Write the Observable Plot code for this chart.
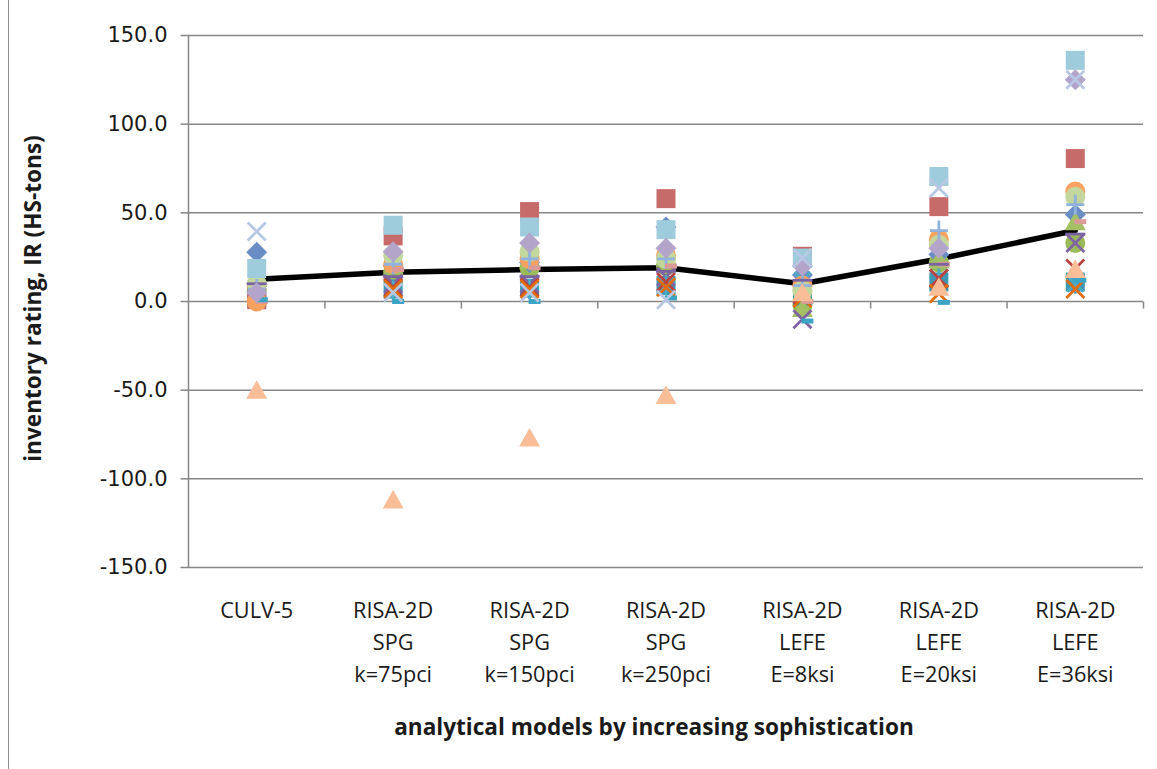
<!DOCTYPE html>
<html><head><meta charset="utf-8">
<script src="https://cdn.jsdelivr.net/npm/d3@7"></script>
<script src="https://cdn.jsdelivr.net/npm/@observablehq/plot@0.6"></script>
<style>body{margin:0;background:#fff;} #wrap{position:relative;width:1157px;height:769px;} #border{position:absolute;left:8px;top:0;width:0;height:769px;border-left:1.5px solid #8d8d8d;}</style>
</head><body><div id="wrap"><div id="border"></div></div>
<script>
const categories = ["CULV-5", "RISA-2D\nSPG\nk=75pci", "RISA-2D\nSPG\nk=150pci", "RISA-2D\nSPG\nk=250pci", "RISA-2D\nLEFE\nE=8ksi", "RISA-2D\nLEFE\nE=20ksi", "RISA-2D\nLEFE\nE=36ksi"];
const yTicks = [-150, -100, -50, 0, 50, 100, 150];
const meanIR = [12.5, 16.5, 18, 19, 10, 24, 40];

const greenCircle      = [2, 17, 19, 20, -2, 22, 33];
const tealSquare       = [2, 7, 7.5, 9, 3, 11, 11];
const blueDiamond      = [27.8, 20, 22, 42, 15, 26.5, 49];
const redSquare        = [1, 37, 50.7, 58, 25.5, 53.5, 80.6];
const greenTriangle    = [11, 20, 23, 25, -4, 23.5, 45];
const purpleX          = [4, 10, 10, 14, -10, 13, 33];
const aquaStar         = [3, 6, 7, 9, 12, 13, 10];
const darkRedX         = [4, 8, 8, 11, 4, 13, 18.6];
const darkOrangeX      = [3, 7, 7, 8, 2, 4.5, 7];
const orangeCircle     = [0, 21, 24, 26, 9, 35, 62];
const lightGreenCircle = [10, 26, 28, 24, 6, 32, 59];
const bluePlus         = [7, 21, 24, 24, 9, 40, 54.6];
const pinkDash         = [0, 18, 19, 20, 0, 21, 45];
const purpleDash       = [10, 14, 14, 17, 12, 21, 38];
const tealDash         = [1, 0, 0, 2, -11, -0.5, 12];
const peachTriangle    = [-50, -112, -77, -53, 5, 8, 18];
const lightBlueSquare  = [18.6, 43, 42, 40.5, 24.5, 70.5, 136];
const lavenderDiamond  = [5, 28, 33, 30, 20, 30, 125];
const lightBlueX       = [39.5, 5, 5, 1, 24.5, 64, 125];

const sym = f => ({draw(c){ f(c); }});
const shapes = {
  square: sym(c => c.rect(-9.5, -9.5, 19, 19)),
  circle: sym(c => { c.moveTo(10, 0); c.arc(0, 0, 10, 0, 2 * Math.PI); }),
  diamond: sym(c => { c.moveTo(0, -10.5); c.lineTo(10.5, 0); c.lineTo(0, 10.5); c.lineTo(-10.5, 0); c.closePath(); }),
  triangle: sym(c => { c.moveTo(0, -10); c.lineTo(10.5, 8.5); c.lineTo(-10.5, 8.5); c.closePath(); }),
  x: sym(c => { c.moveTo(-9, -9); c.lineTo(9, 9); c.moveTo(9, -9); c.lineTo(-9, 9); }),
  star: sym(c => { c.moveTo(-8, -8); c.lineTo(8, 8); c.moveTo(8, -8); c.lineTo(-8, 8); c.moveTo(0, -10); c.lineTo(0, 10); }),
  plus: sym(c => { c.moveTo(-9, 0); c.lineTo(9, 0); c.moveTo(0, -10); c.lineTo(0, 10); }),
  dash: sym(c => c.rect(-1, -2.5, 12, 5)),
  line: sym(c => { c.moveTo(-10, 0); c.lineTo(10, 0); }),
  tickDown: sym(c => { c.moveTo(0, 0); c.lineTo(0, 7); }),
  tickLeft: sym(c => { c.moveTo(0, 0); c.lineTo(-8, 0); })
};

const seriesStyles = [
  {values: greenCircle, shape: "circle", fill: "#9BBB59"},
  {values: tealSquare, shape: "square", fill: "#3A98B4"},
  {values: blueDiamond, shape: "diamond", fill: "#6A8DC6"},
  {values: redSquare, shape: "square", fill: "#C76B6A"},
  {values: greenTriangle, shape: "triangle", fill: "#A3C065"},
  {values: purpleX, shape: "x", stroke: "#8064A2"},
  {values: aquaStar, shape: "star", stroke: "#4BACC6"},
  {values: darkRedX, shape: "x", stroke: "#B8433F"},
  {values: darkOrangeX, shape: "x", stroke: "#E46C0A"},
  {values: orangeCircle, shape: "circle", fill: "#F8A262"},
  {values: lightGreenCircle, shape: "circle", fill: "#C3D69B"},
  {values: bluePlus, shape: "plus", stroke: "#8FB2DE"},
  {values: pinkDash, shape: "dash", fill: "#DA9A98"},
  {values: purpleDash, shape: "line", stroke: "#7B62A0"},
  {values: tealDash, shape: "dash", fill: "#3AA5C4"},
  {values: peachTriangle, shape: "triangle", fill: "#F9BD98"},
  {values: lightBlueSquare, shape: "square", fill: "#9FCCDC"},
  {values: lavenderDiamond, shape: "diamond", fill: "#B3A5C9"},
  {values: lightBlueX, shape: "x", stroke: "#B8C8E4"}
];

const grid = "#878787";
const seriesMarks = seriesStyles.map(s => {
  const rows = s.values.map((v, i) => ({i, v})).filter(d => d.v != null);
  return Plot.dot(rows, {
    x: d => d.i + 0.5, y: "v", r: 10, symbol: shapes[s.shape],
    fill: s.fill || "none", stroke: s.stroke || "none", strokeWidth: s.stroke ? 2.8 : 0
  });
});

const chart = Plot.plot({
  width: 1157, height: 769,
  marginLeft: 188, marginRight: 14, marginTop: 35, marginBottom: 202,
  x: {type: "linear", domain: [0, 7], axis: null},
  y: {type: "linear", domain: [-150, 150], axis: null},
  style: {background: "transparent", fontFamily: "'Open Sans'"},
  marks: [
    Plot.ruleY(yTicks, {y: d => d, stroke: grid, strokeWidth: 1.5}),
    Plot.ruleX([0], {x: d => d, stroke: grid, strokeWidth: 1.5}),
    Plot.dot(yTicks, {x: () => 0, y: d => d, symbol: shapes.tickLeft, stroke: grid, strokeWidth: 1.5, fill: "none"}),
    Plot.dot([1, 2, 3, 4, 5, 6, 7], {x: d => d, y: () => 0, symbol: shapes.tickDown, stroke: grid, strokeWidth: 1.5, fill: "none"}),
    Plot.text(yTicks, {x: () => 0, y: d => d, text: d => d.toFixed(1), textAnchor: "end", dx: -21, fontSize: 21, fontFamily: "DejaVu Sans", fill: "#1a1a1a"}),
    Plot.line(meanIR, {x: (d, i) => i + 0.5, y: d => d, stroke: "#000", strokeWidth: 5.5}),
    ...seriesMarks,
    Plot.text(categories, {x: (d, i) => i + 0.5, frameAnchor: "bottom", text: d => d, lineAnchor: "top", dy: 28, lineHeight: 1.47, fontSize: 21.7, fill: "#1a1a1a"}),
    Plot.text(["analytical models by increasing sophistication"], {frameAnchor: "bottom", text: d => d, textAnchor: "middle", dx: -12, dy: 167, fontSize: 22.6, fontWeight: "bold", fill: "#1a1a1a"}),
    Plot.text(["inventory rating, IR (HS-tons)"], {frameAnchor: "left", text: d => d, textAnchor: "middle", dx: -155, dy: -3, rotate: -90, fontSize: 22.6, fontWeight: "bold", fill: "#1a1a1a"})
  ]
});
document.getElementById("wrap").appendChild(chart);
</script></body></html>
